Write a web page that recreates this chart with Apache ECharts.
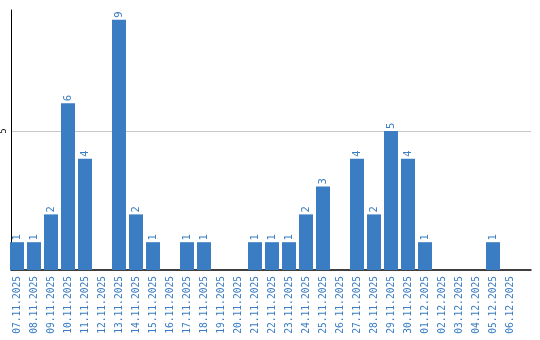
<!DOCTYPE html>
<html><head><meta charset="utf-8">
<script src="https://cdn.jsdelivr.net/npm/echarts@6/dist/echarts.min.js"></script>
<style>html,body{margin:0;padding:0;background:#fff}#c{width:540px;height:340px}</style>
</head><body><div id="c"></div>
<script>
const categories = ["07.11.2025","08.11.2025","09.11.2025","10.11.2025","11.11.2025","12.11.2025","13.11.2025","14.11.2025","15.11.2025","16.11.2025","17.11.2025","18.11.2025","19.11.2025","20.11.2025","21.11.2025","22.11.2025","23.11.2025","24.11.2025","25.11.2025","26.11.2025","27.11.2025","28.11.2025","29.11.2025","30.11.2025","01.12.2025","02.12.2025","03.12.2025","04.12.2025","05.12.2025","06.12.2025"];
const values = [1,1,2,6,4,0,9,2,1,0,1,1,0,0,1,1,1,2,3,0,4,2,5,4,1,0,0,0,1,0];
const yTickLabels = {5: "5"};

const blue = "#3a7dc3";
const chart = echarts.init(document.getElementById('c'), null, {renderer: 'canvas'});
chart.setOption({
  animation: false,
  grid: [
    {left: 8.5, top: 10, width: 510, height: 260, containLabel: false},
    {left: 10, top: 10, width: 521, height: 260, containLabel: false}
  ],
  xAxis: [
    {gridIndex: 0, type: 'category', data: categories,
     axisLine: {show: false}, axisTick: {show: false},
     axisLabel: {interval: 0, rotate: 90, color: blue, fontFamily: 'DejaVu Sans Mono', fontSize: 9.6, margin: 6}},
    {gridIndex: 1, type: 'value', min: 0, max: 1,
     axisLine: {show: true, lineStyle: {color: '#000', width: 1.5}}, axisTick: {show: false},
     axisLabel: {show: false}, splitLine: {show: false}}
  ],
  yAxis: [
    {gridIndex: 0, type: 'value', min: 0, max: 9.35, interval: 5,
     axisLine: {show: false}, axisTick: {show: false}, axisLabel: {show: false}, splitLine: {show: false}},
    {gridIndex: 1, type: 'value', min: 0, max: 9.35, interval: 5,
     axisLine: {show: true, lineStyle: {color: '#000', width: 1}}, axisTick: {show: false},
     axisLabel: {rotate: 90, color: '#000', fontFamily: 'DejaVu Sans', fontSize: 8, margin: 3,
       formatter: v => yTickLabels[v] || ''},
     splitLine: {show: true, showMinLine: false, showMaxLine: false, lineStyle: {color: '#c8c8c8', width: 1}}}
  ],
  series: [{
    type: 'bar', xAxisIndex: 0, yAxisIndex: 0, data: values,
    barWidth: 14,
    itemStyle: {color: blue},
    label: {show: true, position: 'top', rotate: 90, align: 'left', verticalAlign: 'middle', distance: 2,
      color: blue, fontFamily: 'DejaVu Sans', fontSize: 10,
      formatter: p => p.value > 0 ? String(p.value) : ''}
  }]
});
</script></body></html>
